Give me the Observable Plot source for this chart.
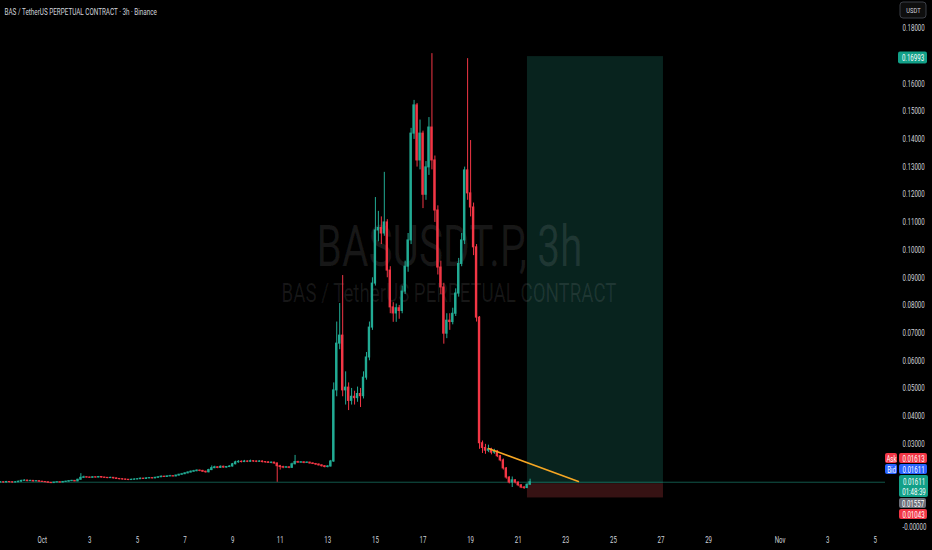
<!DOCTYPE html>
<html>
<head>
<meta charset="utf-8">
<script src="https://cdn.jsdelivr.net/npm/d3@7"></script>
<script src="https://cdn.jsdelivr.net/npm/@observablehq/plot@0.6"></script>
<style>
  html, body { margin: 0; padding: 0; background: #000; overflow: hidden; }
</style>
</head>
<body>
<div id="chart"></div>
<script>
// ---------- text ----------
const symbolTitle = "BAS / TetherUS PERPETUAL CONTRACT · 3h · Binance";
const watermarkMain = "BASUSDT.P, 3h";
const watermarkSub = "BAS / TetherUS PERPETUAL CONTRACT";
const currencyLabel = "USDT";

// ---------- 3h candles (first bar Sep 29 06:00 UTC) ----------
const firstBar = Date.UTC(2025, 8, 29, 6);
const barHours = 3;
const firstOpen = 0.0160;
const closes = [
  .0161,.0160,.0162,.0161,.0160,.0161,
  .0163,.0166,.0167,.0165,.0166,.0164,.0165,.0163,
  .0162,.0161,.0159,.0158,.0160,.0161,.0160,.0162,
  .0163,.0165,.0166,.0164,.0170,.0177,.0179,.0178,
  .0177,.0179,.0178,.0180,.0178,.0177,.0176,.0177,
  .0175,.0173,.0172,.0171,.0170,.0169,.0170,.0171,
  .0172,.0174,.0173,.0175,.0176,.0175,.0177,.0179,
  .0181,.0180,.0182,.0183,.0182,.0185,.0188,.0190,
  .0193,.0196,.0199,.0201,.0203,.0202,.0199,.0197,
  .0205,.0212,.0215,.0213,.0217,.0214,.0216,.0218,
  .0226,.0233,.0235,.0234,.0236,.0235,.0237,.0236,
  .0235,.0236,.0234,.0233,.0231,.0232,.0229,.0219,
  .0216,.0214,.0215,.0213,.0226,.0234,.0232,.0233,
  .0231,.0232,.0229,.0227,.0225,.0222,.0219,.0216,
  .0218,.0236,.0493,.0662,.0691,.0493,.0503,.0455,
  .0470,.0465,.0480,.0472,.0539,.0612,.0720,.0879,
  .1071,.1080,.1060,.1100,.0926,.0793,.0771,.0790,
  .0780,.0850,.0940,.1035,.1421,.1523,.1324,.1421,
  .1200,.1299,.1443,.1324,.1143,.0937,.0865,.0698,
  .0745,.0740,.0770,.0843,.0950,.1035,.1288,.1205,
  .1154,.1010,.0756,.0302,.0285,.0275,.0280,.0268,
  .0272,.0255,.0240,.0211,.0178,.0160,.0168,.0160,
  .0150,.0142,.0140,.0152,.0161
];
const highs = [
  .0163,.0162,.0164,.0163,.0162,.0163,
  .0165,.0168,.0170,.0168,.0168,.0167,.0167,.0166,
  .0164,.0163,.0162,.0160,.0161,.0163,.0162,.0164,
  .0165,.0167,.0168,.0167,.0172,.0192,.0183,.0181,
  .0180,.0181,.0180,.0182,.0181,.0179,.0178,.0179,
  .0178,.0176,.0174,.0173,.0172,.0171,.0172,.0173,
  .0174,.0176,.0175,.0177,.0178,.0177,.0179,.0181,
  .0184,.0183,.0184,.0186,.0185,.0187,.0190,.0193,
  .0196,.0199,.0202,.0204,.0206,.0205,.0204,.0201,
  .0208,.0220,.0219,.0217,.0220,.0219,.0218,.0221,
  .0229,.0237,.0239,.0238,.0240,.0238,.0241,.0239,
  .0238,.0239,.0238,.0236,.0235,.0234,.0233,.0230,
  .0222,.0219,.0218,.0217,.0230,.0258,.0237,.0236,
  .0235,.0235,.0233,.0231,.0229,.0227,.0224,.0221,
  .0221,.0240,.0520,.0740,.0807,.0908,.0560,.0520,
  .0500,.0490,.0505,.0500,.0560,.0630,.0740,.0900,
  .1190,.1140,.1120,.1281,.1110,.0940,.0810,.0805,
  .0800,.0870,.0960,.1060,.1440,.1541,.1530,.1470,
  .1430,.1320,.1479,.1710,.1340,.1160,.0960,.0880,
  .0770,.0770,.0790,.0860,.0970,.1060,.1300,.1692,
  .1396,.1170,.1020,.0760,.0310,.0298,.0295,.0284,
  .0280,.0276,.0258,.0245,.0214,.0181,.0180,.0170,
  .0162,.0152,.0146,.0155,.0172
];
const lows = [
  .0159,.0158,.0159,.0159,.0158,.0159,
  .0160,.0162,.0165,.0163,.0164,.0162,.0163,.0161,
  .0160,.0159,.0157,.0156,.0157,.0159,.0158,.0159,
  .0161,.0162,.0164,.0163,.0163,.0169,.0175,.0176,
  .0175,.0176,.0176,.0177,.0176,.0175,.0174,.0175,
  .0173,.0172,.0170,.0169,.0168,.0167,.0168,.0169,
  .0170,.0171,.0171,.0172,.0174,.0173,.0174,.0176,
  .0178,.0178,.0179,.0181,.0180,.0181,.0184,.0187,
  .0189,.0192,.0195,.0197,.0199,.0199,.0197,.0194,
  .0195,.0203,.0210,.0210,.0211,.0212,.0212,.0214,
  .0216,.0224,.0230,.0231,.0232,.0232,.0233,.0233,
  .0232,.0233,.0231,.0230,.0229,.0228,.0226,.0161,
  .0205,.0210,.0211,.0210,.0212,.0224,.0229,.0229,
  .0228,.0229,.0227,.0225,.0222,.0220,.0216,.0213,
  .0213,.0216,.0233,.0470,.0640,.0470,.0440,.0420,
  .0440,.0440,.0450,.0431,.0462,.0530,.0600,.0710,
  .0870,.1030,.1020,.1050,.0900,.0770,.0739,.0739,
  .0750,.0770,.0840,.0920,.1020,.1400,.1300,.1290,
  .1150,.1180,.1270,.1290,.1100,.0910,.0840,.0660,
  .0680,.0710,.0730,.0760,.0830,.0940,.1020,.1180,
  .1120,.0980,.0740,.0280,.0265,.0262,.0268,.0260,
  .0262,.0250,.0235,.0205,.0172,.0155,.0142,.0155,
  .0145,.0138,.0135,.0138,.0150
];

// ---------- long position tool ----------
const positionTimes = ["2025-10-21T09:20Z", "2025-10-27T02:30Z"];
const entryPrice = 0.01557;
const targetPrice = 0.16993;
const stopPrice = 0.01043;

// ---------- trend line ----------
const trendTimes = ["2025-10-19T18:00Z", "2025-10-23T12:45Z"];
const trendPrices = [0.0283, 0.01637];

// ---------- price scale badges ----------
const askPrice = 0.01613;
const bidPrice = 0.01611;
const lastPrice = 0.01611;
const barCountdown = "01:48:39";

// ---------- ticks ----------
const xTickDates = ["2025-10-01","2025-10-03","2025-10-05","2025-10-07","2025-10-09","2025-10-11",
  "2025-10-13","2025-10-15","2025-10-17","2025-10-19","2025-10-21","2025-10-23","2025-10-25",
  "2025-10-27","2025-10-29","2025-11-01","2025-11-03","2025-11-05"];
const xTickLabels = ["Oct","3","5","7","9","11","13","15","17","19","21","23","25","27","29","Nov","3","5"];
const yTickValues = [0, 0.03, 0.04, 0.05, 0.06, 0.07, 0.08, 0.09, 0.10, 0.11, 0.12, 0.13, 0.14, 0.15, 0.16, 0.18];
const yTickLabels = ["-0.00000","0.03000","0.04000","0.05000","0.06000","0.07000","0.08000","0.09000",
  "0.10000","0.11000","0.12000","0.13000","0.14000","0.15000","0.16000","0.18000"];

// ---------- build ----------
const UP = "#22ab94", DOWN = "#f23645";
const HOUR = 3600e3, DAY = 864e5;
const candles = closes.map((c, i) => {
  const t = firstBar + i * barHours * HOUR;
  return {
    t: new Date(t), t1: new Date(t - 1.2 * HOUR), t2: new Date(t + 1.2 * HOUR),
    open: i ? closes[i - 1] : firstOpen, close: c, high: highs[i], low: lows[i]
  };
});
const colorOf = d => d.close >= d.open ? UP : DOWN;
const trend = trendTimes.map((t, i) => ({t: new Date(t), p: trendPrices[i]}));
const xLabel = new Map(xTickDates.map((d, i) => [+new Date(d), xTickLabels[i]]));
const yLabel = new Map(yTickValues.map((v, i) => [v, yTickLabels[i]]));

const W = 932, H = 550, MR = 47, MB = 18, FR = W - MR; // FR: right edge of the pane
const oct1 = Date.UTC(2025, 9, 1);

function badge(value, label, fill, shift, h, left, right, opts = {}) {
  return [
    Plot.rect([value], {
      y1: d => d, y2: d => d, fill, rx: 2,
      insetTop: shift - h / 2, insetBottom: -shift - h / 2,
      insetLeft: left, insetRight: FR - right
    }),
    Plot.text([value], {
      y: d => d, frameAnchor: "right", dx: (left + right) / 2 - FR, dy: shift,
      text: () => label, fill: "#ffffff", textAnchor: "middle", lineAnchor: "middle",
      fontSize: 8.5, lineHeight: 1.25, ...opts
    })
  ];
}

const chart = Plot.plot({
  width: W, height: H,
  marginLeft: 0, marginRight: MR, marginTop: 0, marginBottom: MB,
  style: {background: "#000", color: "#d1d4dc", fontFamily: "Roboto, 'Noto Sans', sans-serif", fontSize: "8.5px"},
  x: {type: "utc", domain: [new Date(oct1 - 1.7521 * DAY), new Date(oct1 + 35.4328 * DAY)]},
  y: {domain: [-0.00206, 0.19021]},
  marks: [
    // position boxes
    Plot.rect([0], {x1: () => new Date(positionTimes[0]), x2: () => new Date(positionTimes[1]),
      y1: () => entryPrice, y2: () => targetPrice, fill: "#08231e"}),
    Plot.rect([0], {x1: () => new Date(positionTimes[0]), x2: () => new Date(positionTimes[1]),
      y1: () => stopPrice, y2: () => entryPrice, fill: "#361213"}),
    // watermark
    Plot.text([watermarkMain], {frameAnchor: "middle", dx: 6.5, dy: -19, text: d => d,
      fontSize: 56.5, fill: "#ffffff", fillOpacity: 0.09, textAnchor: "middle", lineAnchor: "middle"}),
    Plot.text([watermarkSub], {frameAnchor: "middle", dx: 6, dy: 27.5, text: d => d,
      fontSize: 26, fill: "#ffffff", fillOpacity: 0.09, textAnchor: "middle", lineAnchor: "middle"}),
    // last price line
    Plot.ruleY([lastPrice], {stroke: UP, strokeOpacity: 0.5, strokeWidth: 1}),
    // candles
    Plot.ruleX(candles, {x: "t", y1: "low", y2: "high", stroke: colorOf, strokeWidth: 1}),
    Plot.rect(candles, {x1: "t1", x2: "t2", y1: "open", y2: "close", fill: colorOf,
      insetTop: -0.5, insetBottom: -0.5}),
    // trend line
    Plot.line(trend, {x: "t", y: "p", stroke: "#f5a623", strokeWidth: 1.5}),
    // axes
    Plot.axisX(xTickDates.map(d => new Date(d)), {tickSize: 0, tickPadding: 4.5,
      tickFormat: d => xLabel.get(+d), label: null, fill: "#d1d4dc"}),
    Plot.axisY(yTickValues, {anchor: "right", tickSize: 0, tickPadding: 17,
      tickFormat: d => yLabel.get(d), label: null, fill: "#d1d4dc"}),
    // title
    Plot.text([symbolTitle], {frameAnchor: "top-left", dx: 4, dy: 11.5, text: d => d,
      fontSize: 8.8, fill: "#d1d4dc", textAnchor: "start", lineAnchor: "middle"}),
    // currency box
    Plot.rect([0], {fill: "#0e0e0e", stroke: "#3b3e46", rx: 3,
      insetLeft: 900, insetRight: FR - 926, insetTop: 2, insetBottom: H - MB - 18}),
    Plot.text([currencyLabel], {frameAnchor: "top-right", dx: 28, dy: 10, text: d => d,
      fill: "#d1d4dc", textAnchor: "middle", lineAnchor: "middle", fontSize: 8}),
    // price-scale badges
    ...badge(targetPrice, targetPrice.toFixed(5), "#12a088", 1.4, 12, 898, 927),
    ...badge(askPrice, "Ask", DOWN, -23.7, 10, 885, 897),
    ...badge(askPrice, askPrice.toFixed(5), DOWN, -23.7, 10, 899, 927),
    ...badge(bidPrice, "Bid", "#2962ff", -12.7, 10, 885, 897),
    ...badge(bidPrice, bidPrice.toFixed(5), "#2962ff", -12.7, 10, 899, 927),
    ...badge(lastPrice, lastPrice.toFixed(5) + "\n" + barCountdown, "#12a088", 4.3, 22, 899, 928),
    ...badge(entryPrice, entryPrice.toFixed(5), "#6a6d78", 19.8, 10, 899, 926),
    ...badge(stopPrice, stopPrice.toFixed(5), DOWN, 16.6, 10, 899, 927)
  ]
});

// the reference screenshot is horizontally condensed: squeeze every text the same way
chart.querySelectorAll("text").forEach(t => {
  const tr = t.getAttribute("transform") || "";
  t.setAttribute("transform", (tr + " scale(0.72,1)").trim());
});

document.getElementById("chart").appendChild(chart);
</script>
</body>
</html>
